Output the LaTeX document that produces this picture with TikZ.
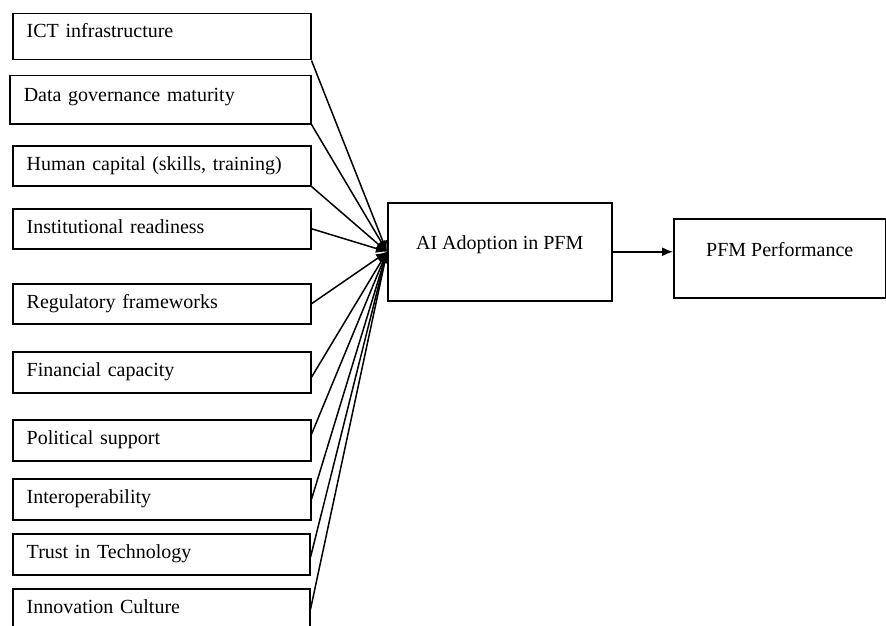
\documentclass[tikz,border=0pt]{standalone}
\usepackage{fontspec}
\setmainfont{Liberation Serif}
\usetikzlibrary{arrows.meta, positioning, calc}

\begin{document}
\begin{tikzpicture}[
  x=1pt, y=-1pt,
  factor/.style={rectangle, draw=black, line width=1.5pt, anchor=north west,
                 minimum width=298pt, minimum height=41pt,
                 font=\fontsize{20}{24}\selectfont, align=left,
                 text width=270pt, inner xsep=14pt, inner ysep=2pt,
                 text height=14pt, text depth=5pt},
  core/.style={rectangle, draw=black, line width=1.5pt, anchor=north west,
               font=\fontsize{20}{24}\selectfont, text height=14pt},
  arr/.style={-{Latex[length=11pt, width=9pt]}, line width=1.5pt},
]
  \useasboundingbox (0,0) rectangle (886,626);

  \node[factor, minimum height=46pt, text depth=12pt] (ict) at (12,13) {ICT infrastructure};
  \node[factor, minimum height=48pt, text depth=10pt, minimum width=301pt,
        text width=273pt] (data) at (9,75) {Data governance maturity};
  \node[factor, minimum height=40pt, text depth=4pt] (human) at (12,145) {Human capital (skills, training)};
  \node[factor, minimum height=40pt, text depth=4pt] (inst) at (12,208) {Institutional readiness};
  \node[factor, minimum height=40pt, text depth=4pt] (reg) at (12,283) {Regulatory frameworks};
  \node[factor] (fin) at (12,351) {Financial capacity};
  \node[factor] (pol) at (12,419) {Political support};
  \node[factor] (interop) at (12,478) {Interoperability};
  \node[factor, minimum width=297pt, text width=269pt] (trust) at (12,533) {Trust in Technology};
  \node[factor, minimum width=297pt, text width=269pt] (innov) at (12,588) {Innovation Culture};

  \node[core, minimum width=224pt, minimum height=98pt, text depth=18pt] (ai) at (387,202) {AI Adoption in PFM};
  \node[core, minimum width=212pt, minimum height=79pt, text depth=17pt] (pfm) at (673,218) {PFM Performance};

  \draw[arr] (ict.south east) -- (ai.west);
  \draw[arr] (data.south east) -- (ai.west);
  \draw[arr] (human.south east) -- (ai.west);
  \draw[arr] (inst.east) -- (ai.west);
  \draw[arr] (reg.east) -- (ai.west);
  \draw[arr] ([yshift=-5pt]fin.east) -- (ai.west);
  \draw[arr] ([yshift=6pt]pol.east) -- (ai.west);
  \draw[arr] (interop.east) -- (ai.west);
  \draw[arr] ([yshift=-3pt]trust.east) -- (ai.west);
  \draw[arr] (innov.east) -- (ai.west);

  \draw[arr] (ai.east) -- (ai.east -| pfm.west);
\end{tikzpicture}
\end{document}
